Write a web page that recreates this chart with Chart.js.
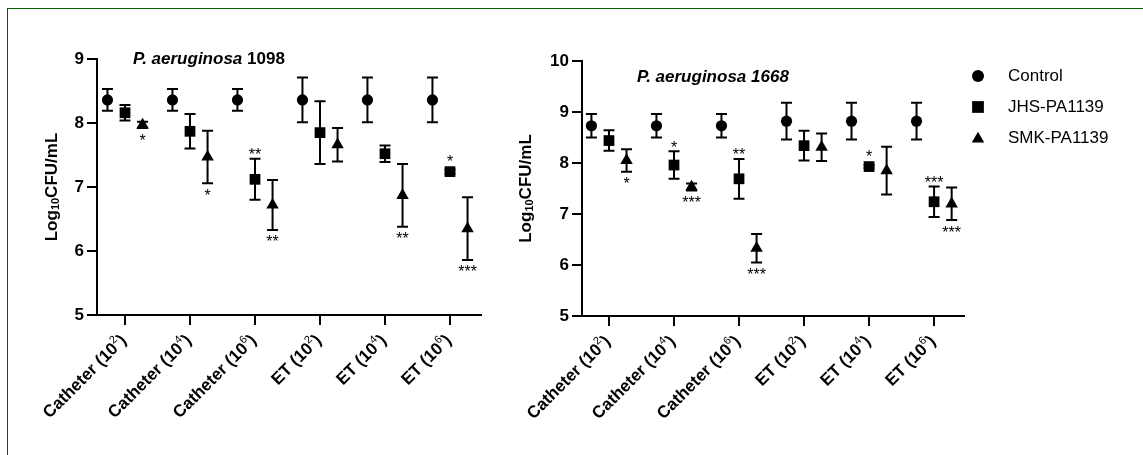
<!DOCTYPE html>
<html><head><meta charset="utf-8">
<script src="https://cdn.jsdelivr.net/npm/chart.js@4.4.0/dist/chart.umd.min.js"></script>
<style>
html,body{margin:0;padding:0;background:#fff;}
#wrap{position:relative;width:1143px;height:455px;overflow:hidden;background:#fff;}
canvas{position:absolute;left:0;top:0;}
#frame{position:absolute;left:7px;top:8px;width:1200px;height:500px;border-left:1px solid #006400;border-top:1px solid #006400;}
</style></head>
<body><div id="wrap"><div id="frame"></div><canvas id="c1" width="1143" height="455"></canvas><canvas id="c2" width="1143" height="455"></canvas></div>
<script>
// ---- data ----
const categories = ['Catheter', 'Catheter', 'Catheter', 'ET', 'ET', 'ET'];
const exponents = ['2', '4', '6', '2', '4', '6'];
const seriesNames = ['Control', 'JHS-PA1139', 'SMK-PA1139'];

const control1098 = [8.36, 8.36, 8.36, 8.36, 8.36, 8.36];
const controlSd1098 = [0.17, 0.17, 0.17, 0.35, 0.35, 0.35];
const jhs1098 = [8.16, 7.87, 7.12, 7.85, 7.52, 7.24];
const jhsSd1098 = [0.12, 0.27, 0.32, 0.49, 0.13, 0.03];
const smk1098 = [7.97, 7.47, 6.72, 7.66, 6.87, 6.35];
const smkSd1098 = [0.05, 0.41, 0.39, 0.26, 0.49, 0.49];
const jhsSig1098 = ['', '', '**', '', '', '*'];
const smkSig1098 = ['*', '*', '**', '', '**', '***'];

const control1668 = [8.73, 8.73, 8.73, 8.82, 8.82, 8.82];
const controlSd1668 = [0.23, 0.23, 0.23, 0.36, 0.36, 0.36];
const jhs1668 = [8.44, 7.96, 7.69, 8.34, 7.93, 7.24];
const jhsSd1668 = [0.20, 0.27, 0.39, 0.29, 0.03, 0.30];
const smk1668 = [8.05, 7.53, 6.33, 8.31, 7.85, 7.20];
const smkSd1668 = [0.22, 0.07, 0.28, 0.27, 0.47, 0.32];
const jhsSig1668 = ['', '*', '**', '', '*', '***'];
const smkSig1668 = ['*', '***', '***', '', '', '***'];

const yRange1098 = [5, 9];
const yRange1668 = [5, 10];

// ---- rendering ----
const FAM = "'Liberation Sans', Arial, Helvetica, sans-serif";
Chart.defaults.font.family = FAM;
Chart.defaults.color = '#000';
const H = 455;
const OFFS = [-0.27, 0, 0.27];
const STYLES = [
  {pointStyle: 'circle', radius: 5.6},
  {pointStyle: 'rect', radius: 7.6},
  {pointStyle: 'triangle', radius: 7.2}
];

function drawXLabels(chart) {
  const ctx = chart.ctx, xs = chart.scales.x, bottom = chart.chartArea.bottom;
  const BOLD = 'bold 17px ' + FAM, SUP = '11px ' + FAM;
  categories.forEach((cat, i) => {
    const x = xs.getPixelForValue(i) - 1, y = bottom + 23;
    const main = cat + ' (10', sup = exponents[i], close = ')';
    ctx.save();
    ctx.translate(x, y); ctx.rotate(-Math.PI / 4);
    ctx.textBaseline = 'middle'; ctx.textAlign = 'left'; ctx.fillStyle = '#000';
    ctx.font = BOLD; const w1 = ctx.measureText(main).width, w3 = ctx.measureText(close).width;
    ctx.font = SUP; const w2 = ctx.measureText(sup).width;
    let cx = -(w1 + w2 + w3);
    ctx.font = BOLD; ctx.fillText(main, cx, 0); cx += w1;
    ctx.font = SUP; ctx.fillText(sup, cx, -6); cx += w2;
    ctx.font = BOLD; ctx.fillText(close, cx, 0);
    ctx.restore();
  });
}

function drawYTitle(chart, cx) {
  const ctx = chart.ctx, ca = chart.chartArea;
  const cy = (ca.top + ca.bottom) / 2;
  const BOLD = 'bold 17px ' + FAM, SUB = 'bold 11px ' + FAM;
  ctx.save();
  ctx.translate(cx, cy); ctx.rotate(-Math.PI / 2);
  ctx.textBaseline = 'middle'; ctx.textAlign = 'left'; ctx.fillStyle = '#000';
  ctx.font = BOLD; const a = ctx.measureText('Log').width, c = ctx.measureText('CFU/mL').width;
  ctx.font = SUB; const b = ctx.measureText('10').width;
  let x = -(a + b + c) / 2;
  ctx.font = BOLD; ctx.fillText('Log', x, 0); x += a;
  ctx.font = SUB; ctx.fillText('10', x, 4); x += b;
  ctx.font = BOLD; ctx.fillText('CFU/mL', x, 0);
  ctx.restore();
}

function drawTitle(chart, t) {
  const ctx = chart.ctx, ca = chart.chartArea;
  ctx.save();
  ctx.fillStyle = '#000'; ctx.textBaseline = 'alphabetic'; ctx.textAlign = 'left';
  let x = ca.left + t.dx;
  t.parts.forEach(p => {
    ctx.font = (p.italic ? 'italic ' : '') + 'bold 17px ' + FAM;
    ctx.fillText(p.text, x, t.y);
    x += ctx.measureText(p.text).width;
  });
  ctx.restore();
}

const decor = {
  id: 'decor',
  afterDatasetsDraw(chart, args, o) {
    const ctx = chart.ctx, xs = chart.scales.x, ys = chart.scales.y;
    ctx.save();
    ctx.strokeStyle = '#000'; ctx.lineWidth = 2; ctx.fillStyle = '#000';
    chart.data.datasets.forEach(ds => {
      ds.data.forEach((p, i) => {
        const px = xs.getPixelForValue(p.x), py = ys.getPixelForValue(p.y);
        const yt = ys.getPixelForValue(p.y + ds.sd[i]), yb = ys.getPixelForValue(p.y - ds.sd[i]);
        if (yb - yt > 1.5) {
          ctx.beginPath();
          ctx.moveTo(px, yt); ctx.lineTo(px, yb);
          ctx.moveTo(px - 5.5, yt); ctx.lineTo(px + 5.5, yt);
          ctx.moveTo(px - 5.5, yb); ctx.lineTo(px + 5.5, yb);
          ctx.stroke();
        }
        const s = ds.sig ? ds.sig[i] : '';
        if (s) {
          ctx.font = '16px ' + FAM; ctx.textAlign = 'center'; ctx.textBaseline = 'alphabetic';
          let cy;
          if (ds.sigPos === 'above') cy = Math.min(yt, py - 6) - 8;
          else cy = Math.max(yb, py + 4) + 8;
          ctx.fillText(s, px, cy + 9.5);
        }
      });
    });
    ctx.restore();
    drawXLabels(chart);
    drawYTitle(chart, o.yTitleX);
    drawTitle(chart, o.title);
    if (o.legend) {
      ctx.save();
      seriesNames.forEach((n, k) => {
        const y = o.legend.y + k * 31;
        ctx.fillStyle = '#000'; ctx.strokeStyle = '#000';
        Chart.helpers.drawPoint(ctx, {pointStyle: STYLES[k].pointStyle, radius: [6, 8.3, 7.2][k], rotation: 0, borderWidth: 0}, o.legend.x, y + (k === 2 ? 1 : 0));
        ctx.font = '17px ' + FAM; ctx.textBaseline = 'middle'; ctx.textAlign = 'left';
        ctx.fillText(n, o.legend.x + 30, y);
      });
      ctx.restore();
    }
  }
};

function makeChart(id, cfg) {
  const means = [cfg.control, cfg.jhs, cfg.smk];
  const sds = [cfg.controlSd, cfg.jhsSd, cfg.smkSd];
  const sigs = [null, cfg.jhsSig, cfg.smkSig];
  const datasets = seriesNames.map((n, k) => ({
    label: n,
    data: means[k].map((v, i) => ({x: i + OFFS[k], y: v})),
    sd: sds[k], sig: sigs[k], sigPos: k === 1 ? 'above' : 'below',
    pointStyle: STYLES[k].pointStyle, pointRadius: STYLES[k].radius,
    backgroundColor: '#000', borderColor: '#000', borderWidth: 0, showLine: false
  }));
  return new Chart(document.getElementById(id), {
    type: 'scatter',
    data: {datasets},
    plugins: [decor],
    options: {
      responsive: false, animation: false, events: [],
      layout: {padding: {left: cfg.padLeft, right: cfg.padRight, top: cfg.top, bottom: 0}},
      plugins: {legend: {display: false}, tooltip: {enabled: false},
        decor: {yTitleX: cfg.yTitleX, title: cfg.title, legend: cfg.legend}},
      scales: {
        x: {
          type: 'linear', min: cfg.xMin, max: cfg.xMax,
          afterBuildTicks: s => { s.ticks = categories.map((c, i) => ({value: i})); },
          afterFit: s => { s.height = H - cfg.bottom; },
          ticks: {display: false},
          grid: {drawOnChartArea: false, drawTicks: true, tickLength: 10, color: '#000', lineWidth: 2, tickColor: '#000', tickWidth: 2},
          border: {display: true, color: '#000', width: 2}
        },
        y: {
          min: cfg.yRange[0], max: cfg.yRange[1],
          afterFit: s => { s.width = cfg.yAxisWidth; },
          ticks: {stepSize: 1, padding: 3, color: '#000', font: {size: 17, weight: 'bold'}},
          grid: {drawOnChartArea: false, drawTicks: true, tickLength: 10, color: '#000', lineWidth: 2, tickColor: '#000', tickWidth: 2},
          border: {display: true, color: '#000', width: 2}
        }
      }
    }
  });
}

makeChart('c1', {
  control: control1098, controlSd: controlSd1098, jhs: jhs1098, jhsSd: jhsSd1098, smk: smk1098, smkSd: smkSd1098,
  jhsSig: jhsSig1098, smkSig: smkSig1098, yRange: yRange1098,
  padLeft: 0, yAxisWidth: 97, padRight: 1143 - 481, top: 59, bottom: 315,
  xMin: -0.431, xMax: 5.477, yTitleX: 52,
  title: {dx: 36, y: 64, parts: [{text: 'P. aeruginosa', italic: true}, {text: ' 1098', italic: false}]}
});
makeChart('c2', {
  control: control1668, controlSd: controlSd1668, jhs: jhs1668, jhsSd: jhsSd1668, smk: smk1668, smkSd: smkSd1668,
  jhsSig: jhsSig1668, smkSig: smkSig1668, yRange: yRange1668,
  padLeft: 500, yAxisWidth: 82, padRight: 1143 - 964, top: 61, bottom: 316,
  xMin: -0.415, xMax: 5.46, yTitleX: 526,
  title: {dx: 55, y: 82, parts: [{text: 'P. aeruginosa 1668', italic: true}]},
  legend: {x: 978, y: 76}
});
</script>
</body></html>
